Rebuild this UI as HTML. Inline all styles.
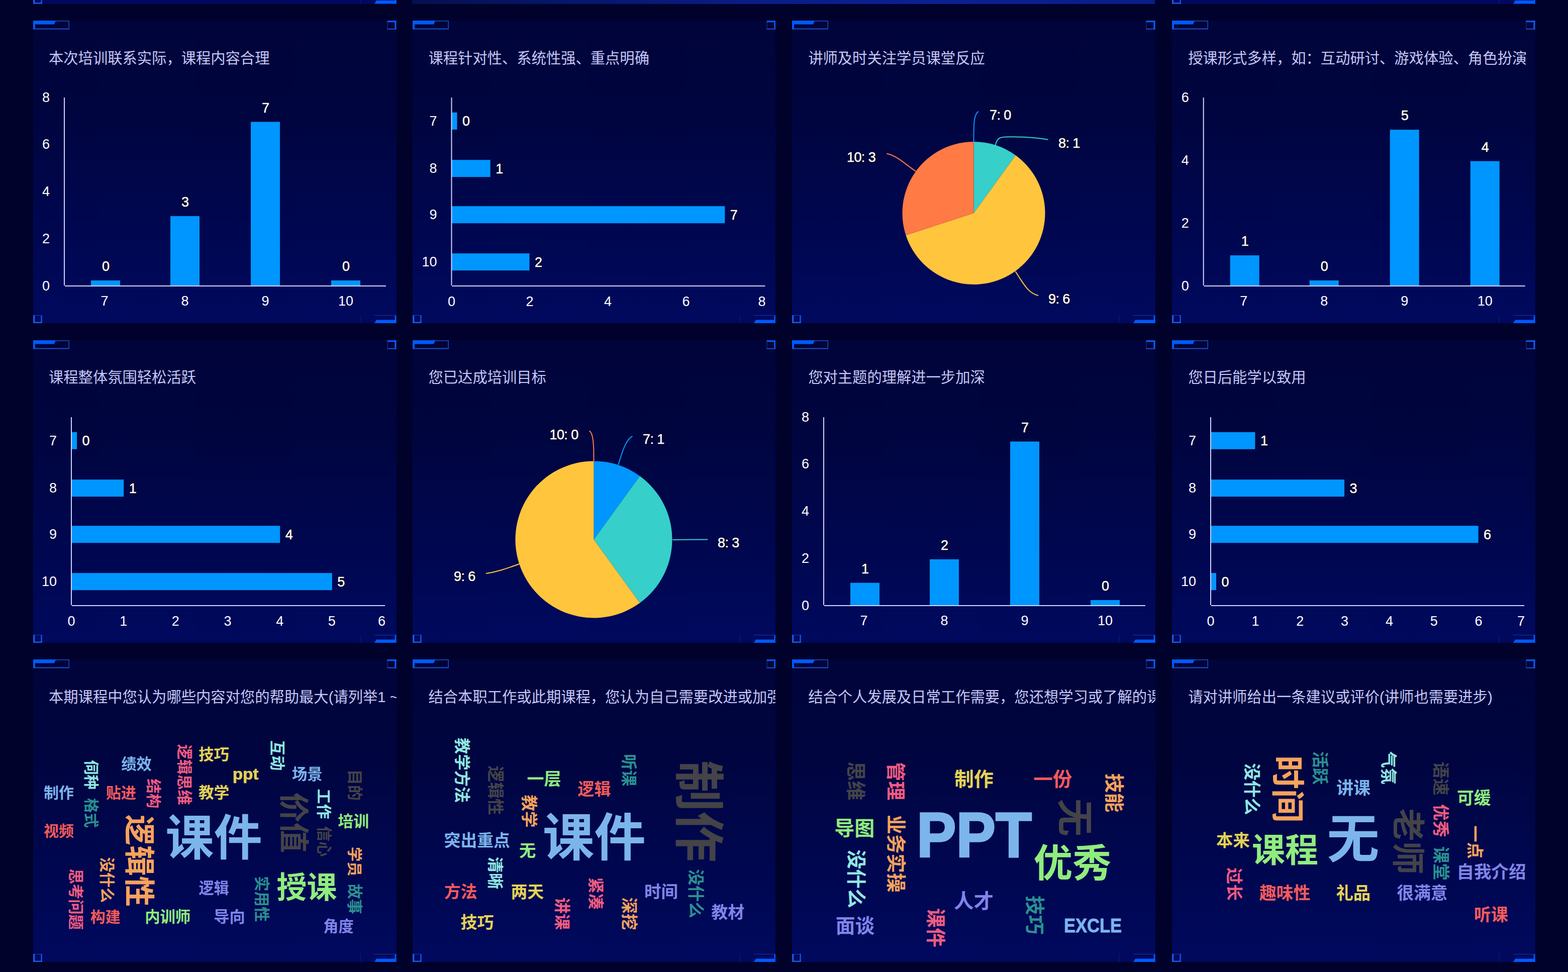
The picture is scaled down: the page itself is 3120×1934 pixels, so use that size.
<!DOCTYPE html>
<html lang="zh-CN"><head><meta charset="utf-8"><title>培训反馈统计</title>
<style>
html,body{margin:0;padding:0;background:#00022b}
body{width:3120px;height:1934px;position:relative;overflow:hidden;font-family:"Liberation Sans","Noto Sans CJK SC",sans-serif}
.p{position:absolute;width:722.5px;height:602px;background:linear-gradient(180deg,#00043a 0%,#00053f 30%,#000750 70%,#00095e 100%)}
.map{position:absolute;left:820px;top:0;width:1478px;height:8px;background:linear-gradient(90deg,#041150 0%,#0a1c86 45%,#0b2092 70%,#0a1d88 100%)}
svg{position:absolute;left:0;top:0;font-family:"Liberation Sans","Noto Sans CJK SC",sans-serif}
svg text{white-space:pre}
.sr{position:absolute;color:transparent;font-size:29px;line-height:34px;white-space:nowrap;overflow:hidden;width:690px;height:34px}
</style></head>
<body>
<div class="p" style="left:66px;top:-594.4px"></div>
<div class="p" style="left:2332px;top:-594.4px"></div>
<div class="map"></div>
<svg width="3120" height="12" viewBox="0 0 3120 12"><rect x="66" y="-594.4" width="72" height="17.5" fill="#00043a"/><path d="M66 -594.4h45.5l-3.7 7.4H66z" fill="#005aff"/><rect x="66" y="-594.4" width="4" height="17.5" fill="#005aff"/><path d="M111 -593.6h27" stroke="#1b49b9" stroke-width="1.6" fill="none"/><path d="M70 -577.9h68" stroke="#1d4fc6" stroke-width="2" fill="none"/><path d="M137.2 -594.4v17.5" stroke="#1b49b9" stroke-width="1.6"/><rect x="770.5" y="-594.4" width="18" height="17.7" fill="#00043a"/><rect x="770.5" y="-594.4" width="18" height="3.3" fill="#0a58f0"/><rect x="785.3" y="-594.4" width="3.2" height="17.7" fill="#0a5af6"/><path d="M770.5 -577.7h18" stroke="#1d4fc6" stroke-width="2" fill="none"/><path d="M771 -594.4v17.7" stroke="#173f9e" stroke-width="1" fill="none"/><rect x="66" y="-8.4" width="3.4" height="16" fill="#1558ea"/><rect x="81.3" y="-8.4" width="2.4" height="16" fill="#0d58ea"/><rect x="66" y="5.2" width="17.7" height="2.4" fill="#1f5ce0"/><path d="M69.4 -7.9h12" stroke="#173f9e" stroke-width="1" fill="none"/><path d="M788.5 7.6h-43.5l4-6.5h39.5z" fill="#005aff"/><rect x="785.5" y="-8.4" width="3" height="16" fill="#005aff"/><path d="M744.5 -7.9h44" stroke="#12379c" stroke-width="1" fill="none"/><path d="M717 -8.4v16" stroke="#12379c" stroke-width="1" fill="none" opacity=".5"/><rect x="2332" y="-594.4" width="72" height="17.5" fill="#00043a"/><path d="M2332 -594.4h45.5l-3.7 7.4H2332z" fill="#005aff"/><rect x="2332" y="-594.4" width="4" height="17.5" fill="#005aff"/><path d="M2377 -593.6h27" stroke="#1b49b9" stroke-width="1.6" fill="none"/><path d="M2336 -577.9h68" stroke="#1d4fc6" stroke-width="2" fill="none"/><path d="M2403.2 -594.4v17.5" stroke="#1b49b9" stroke-width="1.6"/><rect x="3036.5" y="-594.4" width="18" height="17.7" fill="#00043a"/><rect x="3036.5" y="-594.4" width="18" height="3.3" fill="#0a58f0"/><rect x="3051.3" y="-594.4" width="3.2" height="17.7" fill="#0a5af6"/><path d="M3036.5 -577.7h18" stroke="#1d4fc6" stroke-width="2" fill="none"/><path d="M3037 -594.4v17.7" stroke="#173f9e" stroke-width="1" fill="none"/><rect x="2332" y="-8.4" width="3.4" height="16" fill="#1558ea"/><rect x="2347.3" y="-8.4" width="2.4" height="16" fill="#0d58ea"/><rect x="2332" y="5.2" width="17.7" height="2.4" fill="#1f5ce0"/><path d="M2335.4 -7.9h12" stroke="#173f9e" stroke-width="1" fill="none"/><path d="M3054.5 7.6h-43.5l4-6.5h39.5z" fill="#005aff"/><rect x="3051.5" y="-8.4" width="3" height="16" fill="#005aff"/><path d="M3010.5 -7.9h44" stroke="#12379c" stroke-width="1" fill="none"/><path d="M2983 -8.4v16" stroke="#12379c" stroke-width="1" fill="none" opacity=".5"/></svg>
<div class="p" style="left:66px;top:41px"><div class="sr" style="left:31px;top:56px">本次培训联系实际，课程内容合理</div></div>
<svg style="left:66px;top:41px" width="722.5" height="602" viewBox="66 41 722.5 602"><rect x="66" y="41" width="72" height="17.5" fill="#00043a"/><path d="M66 41h45.5l-3.7 7.4H66z" fill="#005aff"/><rect x="66" y="41" width="4" height="17.5" fill="#005aff"/><path d="M111 41.8h27" stroke="#1b49b9" stroke-width="1.6" fill="none"/><path d="M70 57.5h68" stroke="#1d4fc6" stroke-width="2" fill="none"/><path d="M137.2 41v17.5" stroke="#1b49b9" stroke-width="1.6"/><rect x="770.5" y="41" width="18" height="17.7" fill="#00043a"/><rect x="770.5" y="41" width="18" height="3.3" fill="#0a58f0"/><rect x="785.3" y="41" width="3.2" height="17.7" fill="#0a5af6"/><path d="M770.5 57.7h18" stroke="#1d4fc6" stroke-width="2" fill="none"/><path d="M771 41v17.7" stroke="#173f9e" stroke-width="1" fill="none"/><rect x="66" y="627" width="3.4" height="16" fill="#1558ea"/><rect x="81.3" y="627" width="2.4" height="16" fill="#0d58ea"/><rect x="66" y="640.6" width="17.7" height="2.4" fill="#1f5ce0"/><path d="M69.4 627.5h12" stroke="#173f9e" stroke-width="1" fill="none"/><path d="M788.5 643h-43.5l4-6.5h39.5z" fill="#005aff"/><rect x="785.5" y="627" width="3" height="16" fill="#005aff"/><path d="M744.5 627.5h44" stroke="#12379c" stroke-width="1" fill="none"/><path d="M717 627v16" stroke="#12379c" stroke-width="1" fill="none" opacity=".5"/><text x="97" y="126" font-size="29.3" fill="#c6c8fb">本次培训联系实际，课程内容合理</text><rect x="181.0" y="558.0" width="58" height="11.0" fill="#0096ff"/><text x="210.5" y="539.0" text-anchor="middle" font-size="27" fill="#000" stroke="#00001e" stroke-width="3.2" stroke-linejoin="round" aria-hidden="true">0</text><text x="210.5" y="539.0" text-anchor="middle" font-size="27" fill="#fff" stroke="#fff" stroke-width=".5">0</text><text x="208.0" y="607.5" text-anchor="middle" font-size="27" fill="#fff">7</text><rect x="339.0" y="430.0" width="58" height="139.0" fill="#0096ff"/><text x="368.5" y="411.0" text-anchor="middle" font-size="27" fill="#000" stroke="#00001e" stroke-width="3.2" stroke-linejoin="round" aria-hidden="true">3</text><text x="368.5" y="411.0" text-anchor="middle" font-size="27" fill="#fff" stroke="#fff" stroke-width=".5">3</text><text x="368.0" y="607.5" text-anchor="middle" font-size="27" fill="#fff">8</text><rect x="499.0" y="242.5" width="58" height="326.5" fill="#0096ff"/><text x="528.5" y="223.5" text-anchor="middle" font-size="27" fill="#000" stroke="#00001e" stroke-width="3.2" stroke-linejoin="round" aria-hidden="true">7</text><text x="528.5" y="223.5" text-anchor="middle" font-size="27" fill="#fff" stroke="#fff" stroke-width=".5">7</text><text x="528.0" y="607.5" text-anchor="middle" font-size="27" fill="#fff">9</text><rect x="659.0" y="558.0" width="58" height="11.0" fill="#0096ff"/><text x="688.5" y="539.0" text-anchor="middle" font-size="27" fill="#000" stroke="#00001e" stroke-width="3.2" stroke-linejoin="round" aria-hidden="true">0</text><text x="688.5" y="539.0" text-anchor="middle" font-size="27" fill="#fff" stroke="#fff" stroke-width=".5">0</text><text x="688.0" y="607.5" text-anchor="middle" font-size="27" fill="#fff">10</text><text x="99.0" y="577.5" text-anchor="end" font-size="27" fill="#fff">0</text><text x="99.0" y="483.8" text-anchor="end" font-size="27" fill="#fff">2</text><text x="99.0" y="390.0" text-anchor="end" font-size="27" fill="#fff">4</text><text x="99.0" y="296.2" text-anchor="end" font-size="27" fill="#fff">6</text><text x="99.0" y="202.5" text-anchor="end" font-size="27" fill="#fff">8</text><path d="M128 194V568M129 569H768" stroke="#ccd4ff" stroke-width="2" fill="none"/></svg>
<div class="p" style="left:820.5px;top:41px"><div class="sr" style="left:31px;top:56px">课程针对性、系统性强、重点明确</div></div>
<svg style="left:820.5px;top:41px" width="722.5" height="602" viewBox="820.5 41 722.5 602"><rect x="820.5" y="41" width="72" height="17.5" fill="#00043a"/><path d="M820.5 41h45.5l-3.7 7.4H820.5z" fill="#005aff"/><rect x="820.5" y="41" width="4" height="17.5" fill="#005aff"/><path d="M865.5 41.8h27" stroke="#1b49b9" stroke-width="1.6" fill="none"/><path d="M824.5 57.5h68" stroke="#1d4fc6" stroke-width="2" fill="none"/><path d="M891.7 41v17.5" stroke="#1b49b9" stroke-width="1.6"/><rect x="1525" y="41" width="18" height="17.7" fill="#00043a"/><rect x="1525" y="41" width="18" height="3.3" fill="#0a58f0"/><rect x="1539.8" y="41" width="3.2" height="17.7" fill="#0a5af6"/><path d="M1525 57.7h18" stroke="#1d4fc6" stroke-width="2" fill="none"/><path d="M1525.5 41v17.7" stroke="#173f9e" stroke-width="1" fill="none"/><rect x="820.5" y="627" width="3.4" height="16" fill="#1558ea"/><rect x="835.8" y="627" width="2.4" height="16" fill="#0d58ea"/><rect x="820.5" y="640.6" width="17.7" height="2.4" fill="#1f5ce0"/><path d="M823.9 627.5h12" stroke="#173f9e" stroke-width="1" fill="none"/><path d="M1543 643h-43.5l4-6.5h39.5z" fill="#005aff"/><rect x="1540" y="627" width="3" height="16" fill="#005aff"/><path d="M1499 627.5h44" stroke="#12379c" stroke-width="1" fill="none"/><path d="M1471.5 627v16" stroke="#12379c" stroke-width="1" fill="none" opacity=".5"/><text x="852" y="126" font-size="29.3" fill="#c6c8fb">课程针对性、系统性强、重点明确</text><rect x="898.0" y="223.8" width="11.0" height="34" fill="#0096ff"/><text x="919.5" y="250.2" text-anchor="start" font-size="27" fill="#000" stroke="#00001e" stroke-width="3.2" stroke-linejoin="round" aria-hidden="true">0</text><text x="919.5" y="250.2" text-anchor="start" font-size="27" fill="#fff" stroke="#fff" stroke-width=".5">0</text><text x="869.0" y="249.8" text-anchor="end" font-size="27" fill="#fff">7</text><rect x="898.0" y="318.2" width="77.2" height="34" fill="#0096ff"/><text x="985.8" y="344.8" text-anchor="start" font-size="27" fill="#000" stroke="#00001e" stroke-width="3.2" stroke-linejoin="round" aria-hidden="true">1</text><text x="985.8" y="344.8" text-anchor="start" font-size="27" fill="#fff" stroke="#fff" stroke-width=".5">1</text><text x="869.0" y="344.2" text-anchor="end" font-size="27" fill="#fff">8</text><rect x="898.0" y="410.2" width="543.8" height="34" fill="#0096ff"/><text x="1452.2" y="436.8" text-anchor="start" font-size="27" fill="#000" stroke="#00001e" stroke-width="3.2" stroke-linejoin="round" aria-hidden="true">7</text><text x="1452.2" y="436.8" text-anchor="start" font-size="27" fill="#fff" stroke="#fff" stroke-width=".5">7</text><text x="869.0" y="436.2" text-anchor="end" font-size="27" fill="#fff">9</text><rect x="898.0" y="504.2" width="155.0" height="34" fill="#0096ff"/><text x="1063.5" y="530.8" text-anchor="start" font-size="27" fill="#000" stroke="#00001e" stroke-width="3.2" stroke-linejoin="round" aria-hidden="true">2</text><text x="1063.5" y="530.8" text-anchor="start" font-size="27" fill="#fff" stroke="#fff" stroke-width=".5">2</text><text x="869.0" y="530.2" text-anchor="end" font-size="27" fill="#fff">10</text><text x="898.0" y="608.5" text-anchor="middle" font-size="27" fill="#fff">0</text><text x="1053.5" y="608.5" text-anchor="middle" font-size="27" fill="#fff">2</text><text x="1209.0" y="608.5" text-anchor="middle" font-size="27" fill="#fff">4</text><text x="1364.5" y="608.5" text-anchor="middle" font-size="27" fill="#fff">6</text><text x="1523.0" y="608.5" text-anchor="end" font-size="27" fill="#fff">8</text><path d="M898 194V568M899 569H1522" stroke="#ccd4ff" stroke-width="2" fill="none"/></svg>
<div class="p" style="left:1576px;top:41px"><div class="sr" style="left:31px;top:56px">讲师及时关注学员课堂反应</div></div>
<svg style="left:1576px;top:41px" width="722.5" height="602" viewBox="1576 41 722.5 602"><rect x="1576" y="41" width="72" height="17.5" fill="#00043a"/><path d="M1576 41h45.5l-3.7 7.4H1576z" fill="#005aff"/><rect x="1576" y="41" width="4" height="17.5" fill="#005aff"/><path d="M1621 41.8h27" stroke="#1b49b9" stroke-width="1.6" fill="none"/><path d="M1580 57.5h68" stroke="#1d4fc6" stroke-width="2" fill="none"/><path d="M1647.2 41v17.5" stroke="#1b49b9" stroke-width="1.6"/><rect x="2280.5" y="41" width="18" height="17.7" fill="#00043a"/><rect x="2280.5" y="41" width="18" height="3.3" fill="#0a58f0"/><rect x="2295.3" y="41" width="3.2" height="17.7" fill="#0a5af6"/><path d="M2280.5 57.7h18" stroke="#1d4fc6" stroke-width="2" fill="none"/><path d="M2281 41v17.7" stroke="#173f9e" stroke-width="1" fill="none"/><rect x="1576" y="627" width="3.4" height="16" fill="#1558ea"/><rect x="1591.3" y="627" width="2.4" height="16" fill="#0d58ea"/><rect x="1576" y="640.6" width="17.7" height="2.4" fill="#1f5ce0"/><path d="M1579.4 627.5h12" stroke="#173f9e" stroke-width="1" fill="none"/><path d="M2298.5 643h-43.5l4-6.5h39.5z" fill="#005aff"/><rect x="2295.5" y="627" width="3" height="16" fill="#005aff"/><path d="M2254.5 627.5h44" stroke="#12379c" stroke-width="1" fill="none"/><path d="M2227 627v16" stroke="#12379c" stroke-width="1" fill="none" opacity=".5"/><text x="1608.2" y="126" font-size="29.3" fill="#c6c8fb">讲师及时关注学员课堂反应</text><path d="M1937.5 424.0L1937.50 282.00A142 142 0 0 1 2020.97 309.12z" fill="#36cfc9"/><path d="M1937.5 424.0L2020.97 309.12A142 142 0 1 1 1802.45 467.88z" fill="#ffc53d"/><path d="M1937.5 424.0L1802.45 467.88A142 142 0 0 1 1937.50 282.00z" fill="#ff7a45"/><path d="M1937.5 282C1937.5 250 1937 228 1947 221.7" stroke="#0096ff" stroke-width="2" fill="none"/><path d="M1980.5 289C1984 277 1986 273 2001 272.5C2030 271.5 2060 274 2085.5 277.8" stroke="#36cfc9" stroke-width="2" fill="none"/><path d="M2020.5 540C2037 566 2047 584 2066 588" stroke="#ffc53d" stroke-width="2" fill="none"/><path d="M1822 340.7C1800 326 1785 310 1764.4 305.5" stroke="#ff7a45" stroke-width="2" fill="none"/><text x="1969.0" y="237.5" text-anchor="start" font-size="27" letter-spacing="-0.6" fill="#000" stroke="#00001e" stroke-width="3.2" stroke-linejoin="round" aria-hidden="true">7: 0</text><text x="1969.0" y="237.5" text-anchor="start" font-size="27" letter-spacing="-0.6" fill="#fff" stroke="#fff" stroke-width=".5">7: 0</text><text x="2106.0" y="293.5" text-anchor="start" font-size="27" letter-spacing="-0.6" fill="#000" stroke="#00001e" stroke-width="3.2" stroke-linejoin="round" aria-hidden="true">8: 1</text><text x="2106.0" y="293.5" text-anchor="start" font-size="27" letter-spacing="-0.6" fill="#fff" stroke="#fff" stroke-width=".5">8: 1</text><text x="2086.0" y="603.5" text-anchor="start" font-size="27" letter-spacing="-0.6" fill="#000" stroke="#00001e" stroke-width="3.2" stroke-linejoin="round" aria-hidden="true">9: 6</text><text x="2086.0" y="603.5" text-anchor="start" font-size="27" letter-spacing="-0.6" fill="#fff" stroke="#fff" stroke-width=".5">9: 6</text><text x="1685.0" y="321.5" text-anchor="start" font-size="27" letter-spacing="-0.6" fill="#000" stroke="#00001e" stroke-width="3.2" stroke-linejoin="round" aria-hidden="true">10: 3</text><text x="1685.0" y="321.5" text-anchor="start" font-size="27" letter-spacing="-0.6" fill="#fff" stroke="#fff" stroke-width=".5">10: 3</text></svg>
<div class="p" style="left:2332px;top:41px"><div class="sr" style="left:31px;top:56px">授课形式多样，如：互动研讨、游戏体验、角色扮演</div></div>
<svg style="left:2332px;top:41px" width="722.5" height="602" viewBox="2332 41 722.5 602"><rect x="2332" y="41" width="72" height="17.5" fill="#00043a"/><path d="M2332 41h45.5l-3.7 7.4H2332z" fill="#005aff"/><rect x="2332" y="41" width="4" height="17.5" fill="#005aff"/><path d="M2377 41.8h27" stroke="#1b49b9" stroke-width="1.6" fill="none"/><path d="M2336 57.5h68" stroke="#1d4fc6" stroke-width="2" fill="none"/><path d="M2403.2 41v17.5" stroke="#1b49b9" stroke-width="1.6"/><rect x="3036.5" y="41" width="18" height="17.7" fill="#00043a"/><rect x="3036.5" y="41" width="18" height="3.3" fill="#0a58f0"/><rect x="3051.3" y="41" width="3.2" height="17.7" fill="#0a5af6"/><path d="M3036.5 57.7h18" stroke="#1d4fc6" stroke-width="2" fill="none"/><path d="M3037 41v17.7" stroke="#173f9e" stroke-width="1" fill="none"/><rect x="2332" y="627" width="3.4" height="16" fill="#1558ea"/><rect x="2347.3" y="627" width="2.4" height="16" fill="#0d58ea"/><rect x="2332" y="640.6" width="17.7" height="2.4" fill="#1f5ce0"/><path d="M2335.4 627.5h12" stroke="#173f9e" stroke-width="1" fill="none"/><path d="M3054.5 643h-43.5l4-6.5h39.5z" fill="#005aff"/><rect x="3051.5" y="627" width="3" height="16" fill="#005aff"/><path d="M3010.5 627.5h44" stroke="#12379c" stroke-width="1" fill="none"/><path d="M2983 627v16" stroke="#12379c" stroke-width="1" fill="none" opacity=".5"/><text x="2364.2" y="126" font-size="29.3" fill="#c6c8fb">授课形式多样，如：互动研讨、游戏体验、角色扮演</text><rect x="2447.7" y="508.1" width="58" height="60.9" fill="#0096ff"/><text x="2477.2" y="489.1" text-anchor="middle" font-size="27" fill="#000" stroke="#00001e" stroke-width="3.2" stroke-linejoin="round" aria-hidden="true">1</text><text x="2477.2" y="489.1" text-anchor="middle" font-size="27" fill="#fff" stroke="#fff" stroke-width=".5">1</text><text x="2474.7" y="607.5" text-anchor="middle" font-size="27" fill="#fff">7</text><rect x="2605.7" y="558.0" width="58" height="11.0" fill="#0096ff"/><text x="2635.2" y="539.0" text-anchor="middle" font-size="27" fill="#000" stroke="#00001e" stroke-width="3.2" stroke-linejoin="round" aria-hidden="true">0</text><text x="2635.2" y="539.0" text-anchor="middle" font-size="27" fill="#fff" stroke="#fff" stroke-width=".5">0</text><text x="2634.7" y="607.5" text-anchor="middle" font-size="27" fill="#fff">8</text><rect x="2765.7" y="258.1" width="58" height="310.9" fill="#0096ff"/><text x="2795.2" y="239.1" text-anchor="middle" font-size="27" fill="#000" stroke="#00001e" stroke-width="3.2" stroke-linejoin="round" aria-hidden="true">5</text><text x="2795.2" y="239.1" text-anchor="middle" font-size="27" fill="#fff" stroke="#fff" stroke-width=".5">5</text><text x="2794.7" y="607.5" text-anchor="middle" font-size="27" fill="#fff">9</text><rect x="2925.7" y="320.6" width="58" height="248.4" fill="#0096ff"/><text x="2955.2" y="301.6" text-anchor="middle" font-size="27" fill="#000" stroke="#00001e" stroke-width="3.2" stroke-linejoin="round" aria-hidden="true">4</text><text x="2955.2" y="301.6" text-anchor="middle" font-size="27" fill="#fff" stroke="#fff" stroke-width=".5">4</text><text x="2954.7" y="607.5" text-anchor="middle" font-size="27" fill="#fff">10</text><text x="2365.7" y="577.5" text-anchor="end" font-size="27" fill="#fff">0</text><text x="2365.7" y="452.5" text-anchor="end" font-size="27" fill="#fff">2</text><text x="2365.7" y="327.5" text-anchor="end" font-size="27" fill="#fff">4</text><text x="2365.7" y="202.5" text-anchor="end" font-size="27" fill="#fff">6</text><path d="M2394.7 194V568M2395.7 569H3034.7" stroke="#ccd4ff" stroke-width="2" fill="none"/></svg>
<div class="p" style="left:66px;top:677px"><div class="sr" style="left:31px;top:56px">课程整体氛围轻松活跃</div></div>
<svg style="left:66px;top:677px" width="722.5" height="602" viewBox="66 677 722.5 602"><rect x="66" y="677" width="72" height="17.5" fill="#00043a"/><path d="M66 677h45.5l-3.7 7.4H66z" fill="#005aff"/><rect x="66" y="677" width="4" height="17.5" fill="#005aff"/><path d="M111 677.8h27" stroke="#1b49b9" stroke-width="1.6" fill="none"/><path d="M70 693.5h68" stroke="#1d4fc6" stroke-width="2" fill="none"/><path d="M137.2 677v17.5" stroke="#1b49b9" stroke-width="1.6"/><rect x="770.5" y="677" width="18" height="17.7" fill="#00043a"/><rect x="770.5" y="677" width="18" height="3.3" fill="#0a58f0"/><rect x="785.3" y="677" width="3.2" height="17.7" fill="#0a5af6"/><path d="M770.5 693.7h18" stroke="#1d4fc6" stroke-width="2" fill="none"/><path d="M771 677v17.7" stroke="#173f9e" stroke-width="1" fill="none"/><rect x="66" y="1263" width="3.4" height="16" fill="#1558ea"/><rect x="81.3" y="1263" width="2.4" height="16" fill="#0d58ea"/><rect x="66" y="1276.6" width="17.7" height="2.4" fill="#1f5ce0"/><path d="M69.4 1263.5h12" stroke="#173f9e" stroke-width="1" fill="none"/><path d="M788.5 1279h-43.5l4-6.5h39.5z" fill="#005aff"/><rect x="785.5" y="1263" width="3" height="16" fill="#005aff"/><path d="M744.5 1263.5h44" stroke="#12379c" stroke-width="1" fill="none"/><path d="M717 1263v16" stroke="#12379c" stroke-width="1" fill="none" opacity=".5"/><text x="97" y="760.8" font-size="29.3" fill="#c6c8fb">课程整体氛围轻松活跃</text><rect x="142.0" y="859.8" width="11.0" height="34" fill="#0096ff"/><text x="163.5" y="886.2" text-anchor="start" font-size="27" fill="#000" stroke="#00001e" stroke-width="3.2" stroke-linejoin="round" aria-hidden="true">0</text><text x="163.5" y="886.2" text-anchor="start" font-size="27" fill="#fff" stroke="#fff" stroke-width=".5">0</text><text x="113.0" y="885.8" text-anchor="end" font-size="27" fill="#fff">7</text><rect x="142.0" y="954.2" width="104.2" height="34" fill="#0096ff"/><text x="256.7" y="980.8" text-anchor="start" font-size="27" fill="#000" stroke="#00001e" stroke-width="3.2" stroke-linejoin="round" aria-hidden="true">1</text><text x="256.7" y="980.8" text-anchor="start" font-size="27" fill="#fff" stroke="#fff" stroke-width=".5">1</text><text x="113.0" y="980.2" text-anchor="end" font-size="27" fill="#fff">8</text><rect x="142.0" y="1046.2" width="415.2" height="34" fill="#0096ff"/><text x="567.7" y="1072.8" text-anchor="start" font-size="27" fill="#000" stroke="#00001e" stroke-width="3.2" stroke-linejoin="round" aria-hidden="true">4</text><text x="567.7" y="1072.8" text-anchor="start" font-size="27" fill="#fff" stroke="#fff" stroke-width=".5">4</text><text x="113.0" y="1072.2" text-anchor="end" font-size="27" fill="#fff">9</text><rect x="142.0" y="1140.2" width="518.8" height="34" fill="#0096ff"/><text x="671.3" y="1166.8" text-anchor="start" font-size="27" fill="#000" stroke="#00001e" stroke-width="3.2" stroke-linejoin="round" aria-hidden="true">5</text><text x="671.3" y="1166.8" text-anchor="start" font-size="27" fill="#fff" stroke="#fff" stroke-width=".5">5</text><text x="113.0" y="1166.2" text-anchor="end" font-size="27" fill="#fff">10</text><text x="142.0" y="1244.5" text-anchor="middle" font-size="27" fill="#fff">0</text><text x="245.7" y="1244.5" text-anchor="middle" font-size="27" fill="#fff">1</text><text x="349.3" y="1244.5" text-anchor="middle" font-size="27" fill="#fff">2</text><text x="453.0" y="1244.5" text-anchor="middle" font-size="27" fill="#fff">3</text><text x="556.7" y="1244.5" text-anchor="middle" font-size="27" fill="#fff">4</text><text x="660.3" y="1244.5" text-anchor="middle" font-size="27" fill="#fff">5</text><text x="767.0" y="1244.5" text-anchor="end" font-size="27" fill="#fff">6</text><path d="M142 830V1204M143 1205H766" stroke="#ccd4ff" stroke-width="2" fill="none"/></svg>
<div class="p" style="left:820.5px;top:677px"><div class="sr" style="left:31px;top:56px">您已达成培训目标</div></div>
<svg style="left:820.5px;top:677px" width="722.5" height="602" viewBox="820.5 677 722.5 602"><rect x="820.5" y="677" width="72" height="17.5" fill="#00043a"/><path d="M820.5 677h45.5l-3.7 7.4H820.5z" fill="#005aff"/><rect x="820.5" y="677" width="4" height="17.5" fill="#005aff"/><path d="M865.5 677.8h27" stroke="#1b49b9" stroke-width="1.6" fill="none"/><path d="M824.5 693.5h68" stroke="#1d4fc6" stroke-width="2" fill="none"/><path d="M891.7 677v17.5" stroke="#1b49b9" stroke-width="1.6"/><rect x="1525" y="677" width="18" height="17.7" fill="#00043a"/><rect x="1525" y="677" width="18" height="3.3" fill="#0a58f0"/><rect x="1539.8" y="677" width="3.2" height="17.7" fill="#0a5af6"/><path d="M1525 693.7h18" stroke="#1d4fc6" stroke-width="2" fill="none"/><path d="M1525.5 677v17.7" stroke="#173f9e" stroke-width="1" fill="none"/><rect x="820.5" y="1263" width="3.4" height="16" fill="#1558ea"/><rect x="835.8" y="1263" width="2.4" height="16" fill="#0d58ea"/><rect x="820.5" y="1276.6" width="17.7" height="2.4" fill="#1f5ce0"/><path d="M823.9 1263.5h12" stroke="#173f9e" stroke-width="1" fill="none"/><path d="M1543 1279h-43.5l4-6.5h39.5z" fill="#005aff"/><rect x="1540" y="1263" width="3" height="16" fill="#005aff"/><path d="M1499 1263.5h44" stroke="#12379c" stroke-width="1" fill="none"/><path d="M1471.5 1263v16" stroke="#12379c" stroke-width="1" fill="none" opacity=".5"/><text x="852" y="760.8" font-size="29.3" fill="#c6c8fb">您已达成培训目标</text><path d="M1181.0 1073.5L1181.00 917.50A156 156 0 0 1 1272.69 947.29z" fill="#0096ff"/><path d="M1181.0 1073.5L1272.69 947.29A156 156 0 0 1 1272.69 1199.71z" fill="#36cfc9"/><path d="M1181.0 1073.5L1272.69 1199.71A156 156 0 1 1 1181.00 917.50z" fill="#ffc53d"/><path d="M1229.7 924.7C1238 898 1245 874 1258 868" stroke="#0096ff" stroke-width="2" fill="none"/><path d="M1338 1074C1360 1073.5 1385 1073.5 1407.7 1073.5" stroke="#36cfc9" stroke-width="2" fill="none"/><path d="M1033 1122C1010 1130 990 1138 966.4 1141" stroke="#ffc53d" stroke-width="2" fill="none"/><path d="M1181 917.5C1181 890 1181 862 1172 857.3" stroke="#ff7a45" stroke-width="2" fill="none"/><text x="1278.5" y="883.0" text-anchor="start" font-size="27" letter-spacing="-0.6" fill="#000" stroke="#00001e" stroke-width="3.2" stroke-linejoin="round" aria-hidden="true">7: 1</text><text x="1278.5" y="883.0" text-anchor="start" font-size="27" letter-spacing="-0.6" fill="#fff" stroke="#fff" stroke-width=".5">7: 1</text><text x="1427.5" y="1089.0" text-anchor="start" font-size="27" letter-spacing="-0.6" fill="#000" stroke="#00001e" stroke-width="3.2" stroke-linejoin="round" aria-hidden="true">8: 3</text><text x="1427.5" y="1089.0" text-anchor="start" font-size="27" letter-spacing="-0.6" fill="#fff" stroke="#fff" stroke-width=".5">8: 3</text><text x="902.5" y="1155.5" text-anchor="start" font-size="27" letter-spacing="-0.6" fill="#000" stroke="#00001e" stroke-width="3.2" stroke-linejoin="round" aria-hidden="true">9: 6</text><text x="902.5" y="1155.5" text-anchor="start" font-size="27" letter-spacing="-0.6" fill="#fff" stroke="#fff" stroke-width=".5">9: 6</text><text x="1093.0" y="873.5" text-anchor="start" font-size="27" letter-spacing="-0.6" fill="#000" stroke="#00001e" stroke-width="3.2" stroke-linejoin="round" aria-hidden="true">10: 0</text><text x="1093.0" y="873.5" text-anchor="start" font-size="27" letter-spacing="-0.6" fill="#fff" stroke="#fff" stroke-width=".5">10: 0</text></svg>
<div class="p" style="left:1576px;top:677px"><div class="sr" style="left:31px;top:56px">您对主题的理解进一步加深</div></div>
<svg style="left:1576px;top:677px" width="722.5" height="602" viewBox="1576 677 722.5 602"><rect x="1576" y="677" width="72" height="17.5" fill="#00043a"/><path d="M1576 677h45.5l-3.7 7.4H1576z" fill="#005aff"/><rect x="1576" y="677" width="4" height="17.5" fill="#005aff"/><path d="M1621 677.8h27" stroke="#1b49b9" stroke-width="1.6" fill="none"/><path d="M1580 693.5h68" stroke="#1d4fc6" stroke-width="2" fill="none"/><path d="M1647.2 677v17.5" stroke="#1b49b9" stroke-width="1.6"/><rect x="2280.5" y="677" width="18" height="17.7" fill="#00043a"/><rect x="2280.5" y="677" width="18" height="3.3" fill="#0a58f0"/><rect x="2295.3" y="677" width="3.2" height="17.7" fill="#0a5af6"/><path d="M2280.5 693.7h18" stroke="#1d4fc6" stroke-width="2" fill="none"/><path d="M2281 677v17.7" stroke="#173f9e" stroke-width="1" fill="none"/><rect x="1576" y="1263" width="3.4" height="16" fill="#1558ea"/><rect x="1591.3" y="1263" width="2.4" height="16" fill="#0d58ea"/><rect x="1576" y="1276.6" width="17.7" height="2.4" fill="#1f5ce0"/><path d="M1579.4 1263.5h12" stroke="#173f9e" stroke-width="1" fill="none"/><path d="M2298.5 1279h-43.5l4-6.5h39.5z" fill="#005aff"/><rect x="2295.5" y="1263" width="3" height="16" fill="#005aff"/><path d="M2254.5 1263.5h44" stroke="#12379c" stroke-width="1" fill="none"/><path d="M2227 1263v16" stroke="#12379c" stroke-width="1" fill="none" opacity=".5"/><text x="1608.2" y="760.8" font-size="29.3" fill="#c6c8fb">您对主题的理解进一步加深</text><rect x="1692.0" y="1159.7" width="58" height="45.3" fill="#0096ff"/><text x="1721.5" y="1140.7" text-anchor="middle" font-size="27" fill="#000" stroke="#00001e" stroke-width="3.2" stroke-linejoin="round" aria-hidden="true">1</text><text x="1721.5" y="1140.7" text-anchor="middle" font-size="27" fill="#fff" stroke="#fff" stroke-width=".5">1</text><text x="1719.0" y="1243.5" text-anchor="middle" font-size="27" fill="#fff">7</text><rect x="1850.0" y="1112.8" width="58" height="92.2" fill="#0096ff"/><text x="1879.5" y="1093.8" text-anchor="middle" font-size="27" fill="#000" stroke="#00001e" stroke-width="3.2" stroke-linejoin="round" aria-hidden="true">2</text><text x="1879.5" y="1093.8" text-anchor="middle" font-size="27" fill="#fff" stroke="#fff" stroke-width=".5">2</text><text x="1879.0" y="1243.5" text-anchor="middle" font-size="27" fill="#fff">8</text><rect x="2010.0" y="878.5" width="58" height="326.5" fill="#0096ff"/><text x="2039.5" y="859.5" text-anchor="middle" font-size="27" fill="#000" stroke="#00001e" stroke-width="3.2" stroke-linejoin="round" aria-hidden="true">7</text><text x="2039.5" y="859.5" text-anchor="middle" font-size="27" fill="#fff" stroke="#fff" stroke-width=".5">7</text><text x="2039.0" y="1243.5" text-anchor="middle" font-size="27" fill="#fff">9</text><rect x="2170.0" y="1194.0" width="58" height="11.0" fill="#0096ff"/><text x="2199.5" y="1175.0" text-anchor="middle" font-size="27" fill="#000" stroke="#00001e" stroke-width="3.2" stroke-linejoin="round" aria-hidden="true">0</text><text x="2199.5" y="1175.0" text-anchor="middle" font-size="27" fill="#fff" stroke="#fff" stroke-width=".5">0</text><text x="2199.0" y="1243.5" text-anchor="middle" font-size="27" fill="#fff">10</text><text x="1610.0" y="1213.5" text-anchor="end" font-size="27" fill="#fff">0</text><text x="1610.0" y="1119.8" text-anchor="end" font-size="27" fill="#fff">2</text><text x="1610.0" y="1026.0" text-anchor="end" font-size="27" fill="#fff">4</text><text x="1610.0" y="932.2" text-anchor="end" font-size="27" fill="#fff">6</text><text x="1610.0" y="838.5" text-anchor="end" font-size="27" fill="#fff">8</text><path d="M1639 830V1204M1640 1205H2279" stroke="#ccd4ff" stroke-width="2" fill="none"/></svg>
<div class="p" style="left:2332px;top:677px"><div class="sr" style="left:31px;top:56px">您日后能学以致用</div></div>
<svg style="left:2332px;top:677px" width="722.5" height="602" viewBox="2332 677 722.5 602"><rect x="2332" y="677" width="72" height="17.5" fill="#00043a"/><path d="M2332 677h45.5l-3.7 7.4H2332z" fill="#005aff"/><rect x="2332" y="677" width="4" height="17.5" fill="#005aff"/><path d="M2377 677.8h27" stroke="#1b49b9" stroke-width="1.6" fill="none"/><path d="M2336 693.5h68" stroke="#1d4fc6" stroke-width="2" fill="none"/><path d="M2403.2 677v17.5" stroke="#1b49b9" stroke-width="1.6"/><rect x="3036.5" y="677" width="18" height="17.7" fill="#00043a"/><rect x="3036.5" y="677" width="18" height="3.3" fill="#0a58f0"/><rect x="3051.3" y="677" width="3.2" height="17.7" fill="#0a5af6"/><path d="M3036.5 693.7h18" stroke="#1d4fc6" stroke-width="2" fill="none"/><path d="M3037 677v17.7" stroke="#173f9e" stroke-width="1" fill="none"/><rect x="2332" y="1263" width="3.4" height="16" fill="#1558ea"/><rect x="2347.3" y="1263" width="2.4" height="16" fill="#0d58ea"/><rect x="2332" y="1276.6" width="17.7" height="2.4" fill="#1f5ce0"/><path d="M2335.4 1263.5h12" stroke="#173f9e" stroke-width="1" fill="none"/><path d="M3054.5 1279h-43.5l4-6.5h39.5z" fill="#005aff"/><rect x="3051.5" y="1263" width="3" height="16" fill="#005aff"/><path d="M3010.5 1263.5h44" stroke="#12379c" stroke-width="1" fill="none"/><path d="M2983 1263v16" stroke="#12379c" stroke-width="1" fill="none" opacity=".5"/><text x="2364.2" y="760.8" font-size="29.3" fill="#c6c8fb">您日后能学以致用</text><rect x="2409.0" y="859.8" width="88.4" height="34" fill="#0096ff"/><text x="2507.9" y="886.2" text-anchor="start" font-size="27" fill="#000" stroke="#00001e" stroke-width="3.2" stroke-linejoin="round" aria-hidden="true">1</text><text x="2507.9" y="886.2" text-anchor="start" font-size="27" fill="#fff" stroke="#fff" stroke-width=".5">1</text><text x="2380.0" y="885.8" text-anchor="end" font-size="27" fill="#fff">7</text><rect x="2409.0" y="954.2" width="266.1" height="34" fill="#0096ff"/><text x="2685.6" y="980.8" text-anchor="start" font-size="27" fill="#000" stroke="#00001e" stroke-width="3.2" stroke-linejoin="round" aria-hidden="true">3</text><text x="2685.6" y="980.8" text-anchor="start" font-size="27" fill="#fff" stroke="#fff" stroke-width=".5">3</text><text x="2380.0" y="980.2" text-anchor="end" font-size="27" fill="#fff">8</text><rect x="2409.0" y="1046.2" width="532.6" height="34" fill="#0096ff"/><text x="2952.1" y="1072.8" text-anchor="start" font-size="27" fill="#000" stroke="#00001e" stroke-width="3.2" stroke-linejoin="round" aria-hidden="true">6</text><text x="2952.1" y="1072.8" text-anchor="start" font-size="27" fill="#fff" stroke="#fff" stroke-width=".5">6</text><text x="2380.0" y="1072.2" text-anchor="end" font-size="27" fill="#fff">9</text><rect x="2409.0" y="1140.2" width="11.0" height="34" fill="#0096ff"/><text x="2430.5" y="1166.8" text-anchor="start" font-size="27" fill="#000" stroke="#00001e" stroke-width="3.2" stroke-linejoin="round" aria-hidden="true">0</text><text x="2430.5" y="1166.8" text-anchor="start" font-size="27" fill="#fff" stroke="#fff" stroke-width=".5">0</text><text x="2380.0" y="1166.2" text-anchor="end" font-size="27" fill="#fff">10</text><text x="2409.0" y="1244.5" text-anchor="middle" font-size="27" fill="#fff">0</text><text x="2497.9" y="1244.5" text-anchor="middle" font-size="27" fill="#fff">1</text><text x="2586.7" y="1244.5" text-anchor="middle" font-size="27" fill="#fff">2</text><text x="2675.6" y="1244.5" text-anchor="middle" font-size="27" fill="#fff">3</text><text x="2764.4" y="1244.5" text-anchor="middle" font-size="27" fill="#fff">4</text><text x="2853.3" y="1244.5" text-anchor="middle" font-size="27" fill="#fff">5</text><text x="2942.1" y="1244.5" text-anchor="middle" font-size="27" fill="#fff">6</text><text x="3034.0" y="1244.5" text-anchor="end" font-size="27" fill="#fff">7</text><path d="M2409 830V1204M2410 1205H3033" stroke="#ccd4ff" stroke-width="2" fill="none"/></svg>
<div class="p" style="left:66px;top:1312px"><div class="sr" style="left:31px;top:56px">本期课程中您认为哪些内容对您的帮助最大(请列举1 ~ 3项)</div></div>
<svg style="left:66px;top:1312px" width="722.5" height="602" viewBox="66 1312 722.5 602"><rect x="66" y="1312" width="72" height="17.5" fill="#00043a"/><path d="M66 1312h45.5l-3.7 7.4H66z" fill="#005aff"/><rect x="66" y="1312" width="4" height="17.5" fill="#005aff"/><path d="M111 1312.8h27" stroke="#1b49b9" stroke-width="1.6" fill="none"/><path d="M70 1328.5h68" stroke="#1d4fc6" stroke-width="2" fill="none"/><path d="M137.2 1312v17.5" stroke="#1b49b9" stroke-width="1.6"/><rect x="770.5" y="1312" width="18" height="17.7" fill="#00043a"/><rect x="770.5" y="1312" width="18" height="3.3" fill="#0a58f0"/><rect x="785.3" y="1312" width="3.2" height="17.7" fill="#0a5af6"/><path d="M770.5 1328.7h18" stroke="#1d4fc6" stroke-width="2" fill="none"/><path d="M771 1312v17.7" stroke="#173f9e" stroke-width="1" fill="none"/><rect x="66" y="1898" width="3.4" height="16" fill="#1558ea"/><rect x="81.3" y="1898" width="2.4" height="16" fill="#0d58ea"/><rect x="66" y="1911.6" width="17.7" height="2.4" fill="#1f5ce0"/><path d="M69.4 1898.5h12" stroke="#173f9e" stroke-width="1" fill="none"/><path d="M788.5 1914h-43.5l4-6.5h39.5z" fill="#005aff"/><rect x="785.5" y="1898" width="3" height="16" fill="#005aff"/><path d="M744.5 1898.5h44" stroke="#12379c" stroke-width="1" fill="none"/><path d="M717 1898v16" stroke="#12379c" stroke-width="1" fill="none" opacity=".5"/><text x="97" y="1397.2" font-size="29.3" fill="#c6c8fb">本期课程中您认为哪些内容对您的帮助最大(请列举1 ~ 3项)</text><text x="425.5" y="1701.4" text-anchor="middle" font-size="96.2" font-weight="bold" fill="#7cb5ec">课件</text><text x="610.4" y="1787.4" text-anchor="middle" font-size="60.0" font-weight="bold" fill="#90ed7d">授课</text><text transform="translate(255.3 1712.6) rotate(90)" text-anchor="middle" font-size="61.0" font-weight="bold" fill="#f7a35c">逻辑性</text><text transform="translate(563.4 1636.5) rotate(90)" text-anchor="middle" font-size="60.2" font-weight="bold" fill="#434348">价值</text><text x="116.9" y="1588.0" text-anchor="middle" font-size="29.9" font-weight="bold" fill="#7cb5ec">制作</text><text transform="translate(171.0 1541.6) rotate(90)" text-anchor="middle" font-size="29.3" font-weight="bold" fill="#91e8e1">伺种</text><text x="271.5" y="1530.9" text-anchor="middle" font-size="30.2" font-weight="bold" fill="#7cb5ec">绩效</text><text transform="translate(170.9 1617.5) rotate(90)" text-anchor="middle" font-size="29.6" font-weight="bold" fill="#2b908f">格式</text><text x="240.7" y="1588.0" text-anchor="middle" font-size="30.0" font-weight="bold" fill="#f45b5b">贴进</text><text transform="translate(294.6 1579.0) rotate(90)" text-anchor="middle" font-size="29.5" font-weight="bold" fill="#f15c80">结构</text><text transform="translate(355.8 1541.3) rotate(90)" text-anchor="middle" font-size="30.2" font-weight="bold" fill="#f15c80">逻辑思维</text><text x="425.6" y="1512.2" text-anchor="middle" font-size="30.4" font-weight="bold" fill="#e4d354">技巧</text><text x="425.6" y="1588.2" text-anchor="middle" font-size="30.6" font-weight="bold" fill="#e4d354">教学</text><text transform="translate(540.9 1503.3) rotate(90)" text-anchor="middle" font-size="30.2" font-weight="bold" fill="#91e8e1">互动</text><text x="611.2" y="1550.5" text-anchor="middle" font-size="30.3" font-weight="bold" fill="#7cb5ec">场景</text><text transform="translate(694.7 1562.0) rotate(90)" text-anchor="middle" font-size="31.0" font-weight="bold" fill="#434348">目的</text><text transform="translate(634.2 1599.5) rotate(90)" text-anchor="middle" font-size="30.1" font-weight="bold" fill="#91e8e1">工作</text><text x="703.3" y="1645.1" text-anchor="middle" font-size="30.8" font-weight="bold" fill="#90ed7d">培训</text><text x="116.9" y="1664.0" text-anchor="middle" font-size="29.9" font-weight="bold" fill="#f45b5b">视频</text><text transform="translate(633.7 1674.2) rotate(90)" text-anchor="middle" font-size="30.4" font-weight="bold" fill="#434348">信心</text><text transform="translate(695.2 1714.3) rotate(90)" text-anchor="middle" font-size="29.3" font-weight="bold" fill="#f7a35c">学员</text><text transform="translate(202.1 1750.8) rotate(90)" text-anchor="middle" font-size="30.2" font-weight="bold" fill="#f7a35c">没什么</text><text transform="translate(139.5 1789.2) rotate(90)" text-anchor="middle" font-size="30.4" font-weight="bold" fill="#f15c80">思考问题</text><text x="209.7" y="1834.6" text-anchor="middle" font-size="29.9" font-weight="bold" fill="#f45b5b">构建</text><text x="333.7" y="1834.8" text-anchor="middle" font-size="30.3" font-weight="bold" fill="#90ed7d">内训师</text><text x="425.6" y="1777.8" text-anchor="middle" font-size="30.2" font-weight="bold" fill="#8085e9">逻辑</text><text x="456.4" y="1835.1" text-anchor="middle" font-size="31.2" font-weight="bold" fill="#8085e9">导向</text><text transform="translate(509.7 1788.8) rotate(90)" text-anchor="middle" font-size="30.3" font-weight="bold" fill="#2b908f">实用性</text><text transform="translate(694.9 1788.8) rotate(90)" text-anchor="middle" font-size="30.2" font-weight="bold" fill="#2b908f">故事</text><text x="673.4" y="1853.6" text-anchor="middle" font-size="30.2" font-weight="bold" fill="#8085e9">角度</text><text transform="translate(488.5 1551.0) scale(1.040 1)" text-anchor="middle" font-size="32.0" font-weight="bold" fill="#e4d354" stroke="#e4d354" stroke-width="0.6" stroke-linejoin="miter">ppt</text></svg>
<div class="p" style="left:820.5px;top:1312px"><div class="sr" style="left:31px;top:56px">结合本职工作或此期课程，您认为自己需要改进或加强的地方</div></div>
<svg style="left:820.5px;top:1312px" width="722.5" height="602" viewBox="820.5 1312 722.5 602"><rect x="820.5" y="1312" width="72" height="17.5" fill="#00043a"/><path d="M820.5 1312h45.5l-3.7 7.4H820.5z" fill="#005aff"/><rect x="820.5" y="1312" width="4" height="17.5" fill="#005aff"/><path d="M865.5 1312.8h27" stroke="#1b49b9" stroke-width="1.6" fill="none"/><path d="M824.5 1328.5h68" stroke="#1d4fc6" stroke-width="2" fill="none"/><path d="M891.7 1312v17.5" stroke="#1b49b9" stroke-width="1.6"/><rect x="1525" y="1312" width="18" height="17.7" fill="#00043a"/><rect x="1525" y="1312" width="18" height="3.3" fill="#0a58f0"/><rect x="1539.8" y="1312" width="3.2" height="17.7" fill="#0a5af6"/><path d="M1525 1328.7h18" stroke="#1d4fc6" stroke-width="2" fill="none"/><path d="M1525.5 1312v17.7" stroke="#173f9e" stroke-width="1" fill="none"/><rect x="820.5" y="1898" width="3.4" height="16" fill="#1558ea"/><rect x="835.8" y="1898" width="2.4" height="16" fill="#0d58ea"/><rect x="820.5" y="1911.6" width="17.7" height="2.4" fill="#1f5ce0"/><path d="M823.9 1898.5h12" stroke="#173f9e" stroke-width="1" fill="none"/><path d="M1543 1914h-43.5l4-6.5h39.5z" fill="#005aff"/><rect x="1540" y="1898" width="3" height="16" fill="#005aff"/><path d="M1499 1898.5h44" stroke="#12379c" stroke-width="1" fill="none"/><path d="M1471.5 1898v16" stroke="#12379c" stroke-width="1" fill="none" opacity=".5"/><text x="852" y="1397.2" font-size="29.3" fill="#c6c8fb">结合本职工作或此期课程，您认为自己需要改进或加强的地方</text><text x="1181.8" y="1703.3" text-anchor="middle" font-size="102.6" font-weight="bold" fill="#7cb5ec">课件</text><text transform="translate(1353.9 1614.0) rotate(90)" text-anchor="middle" font-size="101.5" font-weight="bold" fill="#434348">制作</text><text transform="translate(907.2 1532.7) rotate(90)" text-anchor="middle" font-size="32.3" font-weight="bold" fill="#91e8e1">教学方法</text><text transform="translate(973.0 1572.6) rotate(90)" text-anchor="middle" font-size="32.8" font-weight="bold" fill="#434348">逻辑性</text><text x="1082.0" y="1562.2" text-anchor="middle" font-size="34.0" font-weight="bold" fill="#90ed7d">一层</text><text x="1181.9" y="1582.2" text-anchor="middle" font-size="32.8" font-weight="bold" fill="#f45b5b">逻辑</text><text transform="translate(1040.7 1614.0) rotate(90)" text-anchor="middle" font-size="32.6" font-weight="bold" fill="#f7a35c">教学</text><text transform="translate(1239.0 1532.3) rotate(90)" text-anchor="middle" font-size="32.1" font-weight="bold" fill="#2b908f">听课</text><text x="948.7" y="1684.0" text-anchor="middle" font-size="32.8" font-weight="bold" fill="#7cb5ec">突出重点</text><text x="1049.2" y="1704.2" text-anchor="middle" font-size="33.3" font-weight="bold" fill="#90ed7d">无</text><text transform="translate(973.3 1737.0) rotate(90)" text-anchor="middle" font-size="32.3" font-weight="bold" fill="#91e8e1">清晰</text><text x="916.1" y="1786.1" text-anchor="middle" font-size="32.9" font-weight="bold" fill="#f45b5b">方法</text><text x="1048.8" y="1786.4" text-anchor="middle" font-size="32.9" font-weight="bold" fill="#e4d354">两天</text><text x="949.0" y="1847.1" text-anchor="middle" font-size="33.0" font-weight="bold" fill="#e4d354">技巧</text><text transform="translate(1106.5 1818.0) rotate(90)" text-anchor="middle" font-size="32.2" font-weight="bold" fill="#f15c80">讲课</text><text transform="translate(1173.3 1777.8) rotate(90)" text-anchor="middle" font-size="32.3" font-weight="bold" fill="#f15c80">紧凑</text><text transform="translate(1239.3 1818.0) rotate(90)" text-anchor="middle" font-size="32.4" font-weight="bold" fill="#f7a35c">深挖</text><text x="1315.1" y="1786.3" text-anchor="middle" font-size="33.5" font-weight="bold" fill="#8085e9">时间</text><text transform="translate(1372.6 1778.0) rotate(90)" text-anchor="middle" font-size="32.6" font-weight="bold" fill="#2b908f">没什么</text><text x="1447.7" y="1826.8" text-anchor="middle" font-size="32.9" font-weight="bold" fill="#8085e9">教材</text></svg>
<div class="p" style="left:1576px;top:1312px"><div class="sr" style="left:31px;top:56px">结合个人发展及日常工作需要，您还想学习或了解的课程</div></div>
<svg style="left:1576px;top:1312px" width="722.5" height="602" viewBox="1576 1312 722.5 602"><rect x="1576" y="1312" width="72" height="17.5" fill="#00043a"/><path d="M1576 1312h45.5l-3.7 7.4H1576z" fill="#005aff"/><rect x="1576" y="1312" width="4" height="17.5" fill="#005aff"/><path d="M1621 1312.8h27" stroke="#1b49b9" stroke-width="1.6" fill="none"/><path d="M1580 1328.5h68" stroke="#1d4fc6" stroke-width="2" fill="none"/><path d="M1647.2 1312v17.5" stroke="#1b49b9" stroke-width="1.6"/><rect x="2280.5" y="1312" width="18" height="17.7" fill="#00043a"/><rect x="2280.5" y="1312" width="18" height="3.3" fill="#0a58f0"/><rect x="2295.3" y="1312" width="3.2" height="17.7" fill="#0a5af6"/><path d="M2280.5 1328.7h18" stroke="#1d4fc6" stroke-width="2" fill="none"/><path d="M2281 1312v17.7" stroke="#173f9e" stroke-width="1" fill="none"/><rect x="1576" y="1898" width="3.4" height="16" fill="#1558ea"/><rect x="1591.3" y="1898" width="2.4" height="16" fill="#0d58ea"/><rect x="1576" y="1911.6" width="17.7" height="2.4" fill="#1f5ce0"/><path d="M1579.4 1898.5h12" stroke="#173f9e" stroke-width="1" fill="none"/><path d="M2298.5 1914h-43.5l4-6.5h39.5z" fill="#005aff"/><rect x="2295.5" y="1898" width="3" height="16" fill="#005aff"/><path d="M2254.5 1898.5h44" stroke="#12379c" stroke-width="1" fill="none"/><path d="M2227 1898v16" stroke="#12379c" stroke-width="1" fill="none" opacity=".5"/><text x="1608.2" y="1397.2" font-size="29.3" fill="#c6c8fb">结合个人发展及日常工作需要，您还想学习或了解的课程</text><text x="2134.0" y="1745.2" text-anchor="middle" font-size="77.6" font-weight="bold" fill="#90ed7d">优秀</text><text transform="translate(2112.4 1626.3) rotate(90)" text-anchor="middle" font-size="75.3" font-weight="bold" fill="#434348">无</text><text transform="translate(1689.3 1553.8) rotate(90)" text-anchor="middle" font-size="38.9" font-weight="bold" fill="#434348">思维</text><text transform="translate(1769.3 1554.5) rotate(90)" text-anchor="middle" font-size="37.9" font-weight="bold" fill="#f15c80">管理</text><text x="1937.8" y="1563.7" text-anchor="middle" font-size="39.1" font-weight="bold" fill="#e4d354">制作</text><text x="2094.8" y="1564.3" text-anchor="middle" font-size="38.5" font-weight="bold" fill="#f45b5b">一份</text><text transform="translate(2202.9 1577.5) rotate(90)" text-anchor="middle" font-size="38.8" font-weight="bold" fill="#f7a35c">技能</text><text x="1700.2" y="1661.8" text-anchor="middle" font-size="40.0" font-weight="bold" fill="#90ed7d">导图</text><text transform="translate(1769.4 1698.5) rotate(90)" text-anchor="middle" font-size="38.6" font-weight="bold" fill="#f7a35c">业务实操</text><text transform="translate(1689.8 1748.5) rotate(90)" text-anchor="middle" font-size="38.9" font-weight="bold" fill="#91e8e1">没什么</text><text x="1937.5" y="1807.3" text-anchor="middle" font-size="39.5" font-weight="bold" fill="#8085e9">人才</text><text x="1701.5" y="1856.0" text-anchor="middle" font-size="38.7" font-weight="bold" fill="#8085e9">面谈</text><text transform="translate(1848.1 1845.9) rotate(90)" text-anchor="middle" font-size="38.8" font-weight="bold" fill="#f15c80">课件</text><text transform="translate(2045.0 1820.8) rotate(90)" text-anchor="middle" font-size="38.7" font-weight="bold" fill="#2b908f">技巧</text><text transform="translate(1938.5 1705.3) scale(0.935 1)" text-anchor="middle" font-size="126.0" font-weight="bold" fill="#7cb5ec" stroke="#7cb5ec" stroke-width="3.4" stroke-linejoin="miter">PPT</text><text transform="translate(2174.5 1854.6) scale(0.885 1)" text-anchor="middle" font-size="39.0" font-weight="bold" fill="#7cb5ec" stroke="#7cb5ec" stroke-width="0.8" stroke-linejoin="miter">EXCLE</text></svg>
<div class="p" style="left:2332px;top:1312px"><div class="sr" style="left:31px;top:56px">请对讲师给出一条建议或评价(讲师也需要进步)</div></div>
<svg style="left:2332px;top:1312px" width="722.5" height="602" viewBox="2332 1312 722.5 602"><rect x="2332" y="1312" width="72" height="17.5" fill="#00043a"/><path d="M2332 1312h45.5l-3.7 7.4H2332z" fill="#005aff"/><rect x="2332" y="1312" width="4" height="17.5" fill="#005aff"/><path d="M2377 1312.8h27" stroke="#1b49b9" stroke-width="1.6" fill="none"/><path d="M2336 1328.5h68" stroke="#1d4fc6" stroke-width="2" fill="none"/><path d="M2403.2 1312v17.5" stroke="#1b49b9" stroke-width="1.6"/><rect x="3036.5" y="1312" width="18" height="17.7" fill="#00043a"/><rect x="3036.5" y="1312" width="18" height="3.3" fill="#0a58f0"/><rect x="3051.3" y="1312" width="3.2" height="17.7" fill="#0a5af6"/><path d="M3036.5 1328.7h18" stroke="#1d4fc6" stroke-width="2" fill="none"/><path d="M3037 1312v17.7" stroke="#173f9e" stroke-width="1" fill="none"/><rect x="2332" y="1898" width="3.4" height="16" fill="#1558ea"/><rect x="2347.3" y="1898" width="2.4" height="16" fill="#0d58ea"/><rect x="2332" y="1911.6" width="17.7" height="2.4" fill="#1f5ce0"/><path d="M2335.4 1898.5h12" stroke="#173f9e" stroke-width="1" fill="none"/><path d="M3054.5 1914h-43.5l4-6.5h39.5z" fill="#005aff"/><rect x="3051.5" y="1898" width="3" height="16" fill="#005aff"/><path d="M3010.5 1898.5h44" stroke="#12379c" stroke-width="1" fill="none"/><path d="M2983 1898v16" stroke="#12379c" stroke-width="1" fill="none" opacity=".5"/><text x="2364.2" y="1397.2" font-size="29.3" fill="#c6c8fb">请对讲师给出一条建议或评价(讲师也需要进步)</text><text x="2692.4" y="1705.8" text-anchor="middle" font-size="104.3" font-weight="bold" fill="#7cb5ec">无</text><text x="2556.9" y="1714.6" text-anchor="middle" font-size="66.0" font-weight="bold" fill="#90ed7d">课程</text><text transform="translate(2538.2 1569.8) rotate(90)" text-anchor="middle" font-size="66.9" font-weight="bold" fill="#f7a35c">时间</text><text transform="translate(2778.0 1674.0) rotate(90)" text-anchor="middle" font-size="65.7" font-weight="bold" fill="#434348">老师</text><text transform="translate(2478.7 1570.0) rotate(90)" text-anchor="middle" font-size="34.3" font-weight="bold" fill="#91e8e1">没什么</text><text transform="translate(2614.8 1528.0) rotate(90)" text-anchor="middle" font-size="33.3" font-weight="bold" fill="#2b908f">活跃</text><text x="2693.1" y="1579.6" text-anchor="middle" font-size="33.9" font-weight="bold" fill="#7cb5ec">讲课</text><text transform="translate(2751.1 1528.0) rotate(90)" text-anchor="middle" font-size="33.0" font-weight="bold" fill="#91e8e1">气氛</text><text transform="translate(2855.0 1549.0) rotate(90)" text-anchor="middle" font-size="33.5" font-weight="bold" fill="#434348">语速</text><text x="2932.7" y="1600.2" text-anchor="middle" font-size="33.7" font-weight="bold" fill="#90ed7d">可缓</text><text transform="translate(2855.2 1633.0) rotate(90)" text-anchor="middle" font-size="32.9" font-weight="bold" fill="#f15c80">优秀</text><text x="2453.5" y="1684.1" text-anchor="middle" font-size="33.4" font-weight="bold" fill="#e4d354">本来</text><text transform="translate(2855.2 1717.7) rotate(90)" text-anchor="middle" font-size="33.8" font-weight="bold" fill="#2b908f">课堂</text><text transform="translate(2923.3 1675.5) rotate(90)" text-anchor="middle" font-size="33.1" font-weight="bold" fill="#f7a35c">一点</text><text x="2967.6" y="1747.3" text-anchor="middle" font-size="34.5" font-weight="bold" fill="#8085e9">自我介绍</text><text transform="translate(2444.4 1759.2) rotate(90)" text-anchor="middle" font-size="33.0" font-weight="bold" fill="#f15c80">过长</text><text x="2556.5" y="1789.0" text-anchor="middle" font-size="33.8" font-weight="bold" fill="#f45b5b">趣味性</text><text x="2692.7" y="1789.2" text-anchor="middle" font-size="34.3" font-weight="bold" fill="#e4d354">礼品</text><text x="2830.0" y="1789.0" text-anchor="middle" font-size="33.7" font-weight="bold" fill="#8085e9">很满意</text><text x="2966.8" y="1832.2" text-anchor="middle" font-size="34.0" font-weight="bold" fill="#f45b5b">听课</text></svg>
</body></html>
